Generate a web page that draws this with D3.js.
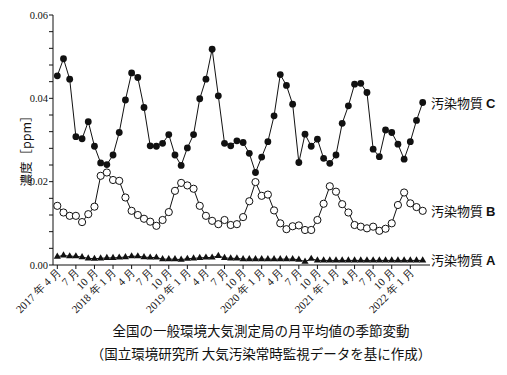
<!DOCTYPE html>
<html>
<head>
<meta charset="utf-8">
<script src="https://cdn.jsdelivr.net/npm/d3@7"></script>
<style>
  body { margin: 0; background: #fff; }
  text { fill: #111; }
</style>
</head>
<body>
<div id="output"></div>
<script>
// monthly values, 2017年4月 .. 2022年3月 (60 months)
var seriesC = [0.0454, 0.0495, 0.0446, 0.0308, 0.0303, 0.0344, 0.0285, 0.0245, 0.0241, 0.0264, 0.0318, 0.0396,
               0.0461, 0.0450, 0.0378, 0.0286, 0.0285, 0.0292, 0.0313, 0.0264, 0.0239, 0.0281, 0.0313, 0.0399,
               0.0446, 0.0518, 0.0406, 0.0292, 0.0286, 0.0298, 0.0294, 0.0268, 0.0222, 0.0259, 0.0296, 0.0358,
               0.0457, 0.0431, 0.0386, 0.0246, 0.0314, 0.0285, 0.0302, 0.0256, 0.0244, 0.0264, 0.0340, 0.0382,
               0.0434, 0.0436, 0.0414, 0.0278, 0.0260, 0.0324, 0.0318, 0.0290, 0.0254, 0.0296, 0.0347, 0.0390];
var seriesB = [0.0142, 0.0126, 0.0118, 0.0118, 0.0103, 0.0122, 0.0140, 0.0214, 0.0222, 0.0204, 0.0202, 0.0162,
               0.0130, 0.0120, 0.0111, 0.0104, 0.0094, 0.0108, 0.0127, 0.0178, 0.0197, 0.0191, 0.0183, 0.0142,
               0.0118, 0.0106, 0.0098, 0.0108, 0.0096, 0.0098, 0.0115, 0.0153, 0.0199, 0.0166, 0.0169, 0.0131,
               0.0100, 0.0086, 0.0093, 0.0095, 0.0084, 0.0084, 0.0108, 0.0147, 0.0189, 0.0176, 0.0146, 0.0126,
               0.0096, 0.0092, 0.0088, 0.0092, 0.0082, 0.0087, 0.0100, 0.0144, 0.0174, 0.0148, 0.0139, 0.0130];
var seriesA = [0.0020, 0.0023, 0.0021, 0.0021, 0.0019, 0.0016, 0.0015, 0.0016, 0.0017, 0.0017, 0.0018, 0.0019,
               0.0021, 0.0021, 0.0019, 0.0018, 0.0018, 0.0014, 0.0014, 0.0014, 0.0013, 0.0015, 0.0016, 0.0017,
               0.0018, 0.0018, 0.0022, 0.0017, 0.0016, 0.0016, 0.0014, 0.0014, 0.0014, 0.0014, 0.0014, 0.0014,
               0.0014, 0.0014, 0.0014, 0.0013, 0.0008, 0.0015, 0.0011, 0.0011, 0.0011, 0.0011, 0.0011, 0.0011,
               0.0011, 0.0011, 0.0011, 0.0011, 0.0011, 0.0011, 0.0011, 0.0011, 0.0011, 0.0011, 0.0011, 0.0011];
var monthLabels = ['2017 年 4 月', '7 月', '10 月', '2018 年 1 月', '4 月', '7 月', '10 月',
                   '2019 年 1 月', '4 月', '7 月', '10 月', '2020 年 1 月', '4 月', '7 月', '10 月',
                   '2021 年 1 月', '4 月', '7 月', '10 月', '2022 年 1 月'];
var yTicks = [0, 0.02, 0.04, 0.06];
var seriesNames = ['汚染物質', '汚染物質', '汚染物質'];
var seriesKeys = ['C', 'B', 'A'];
var caption = ['全国の一般環境大気測定局の月平均値の季節変動',
               '（国立環境研究所 大気汚染常時監視データを基に作成）'];

var w = 507, h = 375;
var axL = 53, axT = 15, axB = 265, axR = 430;
var serif = '"Liberation Serif", "DejaVu Serif", serif';
var jp = '"Noto Sans CJK JP", sans-serif';

var svg = d3.select('#output').append('svg')
  .attr('width', w)
  .attr('height', h);

var x = d3.scaleLinear().domain([0, 59]).range([57.3, 422.7]);
var y = d3.scaleLinear().domain([0, 0.06]).range([axB, axT]);

// y axis
svg.append('line').attr('x1', axL).attr('x2', axL).attr('y1', axT).attr('y2', axB)
  .attr('stroke', '#111').attr('stroke-width', 1);
svg.selectAll('.minor').data(d3.range(0, 0.0601, 0.004)).enter().append('line')
  .attr('x1', axL - 4).attr('x2', axL)
  .attr('y1', function(d) { return y(d); }).attr('y2', function(d) { return y(d); })
  .attr('stroke', '#111').attr('stroke-width', 1);
svg.selectAll('.ylab').data(yTicks).enter().append('text')
  .attr('x', axL - 5).attr('y', function(d) { return y(d) + 3.5; })
  .attr('text-anchor', 'end')
  .style('font-family', serif).style('font-size', '10.5px')
  .text(function(d) { return d3.format('.2f')(d); });
svg.append('text')
  .attr('transform', 'translate(31,148) rotate(-90)')
  .attr('text-anchor', 'middle')
  .style('font-family', jp).style('font-size', '12.5px')
  .text('濃度［ppm］');

// x axis
svg.append('line').attr('x1', axL).attr('x2', axR).attr('y1', axB).attr('y2', axB)
  .attr('stroke', '#111').attr('stroke-width', 1);
var tickIdx = monthLabels.map(function(d, i) { return i * 3; });
svg.selectAll('.xt').data(tickIdx).enter().append('line')
  .attr('x1', function(d) { return x(d); }).attr('x2', function(d) { return x(d); })
  .attr('y1', axB).attr('y2', axB + 4)
  .attr('stroke', '#111').attr('stroke-width', 1);
svg.selectAll('.xlab').data(monthLabels).enter().append('text')
  .attr('transform', function(d, i) { return 'translate(' + (x(i * 3) + 4) + ',' + (axB + 8) + ') rotate(-45)'; })
  .attr('text-anchor', 'end')
  .style('font-family', serif).style('font-size', '11px')
  .text(function(d) { return d; });

var line = d3.line()
  .x(function(d, i) { return x(i); })
  .y(function(d) { return y(d); });

function drawLine(data) {
  svg.append('path').datum(data).attr('d', line)
    .attr('fill', 'none').attr('stroke', '#111').attr('stroke-width', 1);
}

// A: triangles
drawLine(seriesA);
svg.selectAll('.tri').data(seriesA).enter().append('path')
  .attr('d', d3.symbol().type(d3.symbolTriangle).size(22))
  .attr('transform', function(d, i) { return 'translate(' + x(i) + ',' + y(d) + ')'; })
  .attr('fill', '#111');

// B: open circles
drawLine(seriesB);
svg.selectAll('.ob').data(seriesB).enter().append('circle')
  .attr('cx', function(d, i) { return x(i); })
  .attr('cy', function(d) { return y(d); })
  .attr('r', 3.6)
  .attr('fill', '#fff').attr('stroke', '#111').attr('stroke-width', 1);

// C: filled circles
drawLine(seriesC);
svg.selectAll('.oc').data(seriesC).enter().append('circle')
  .attr('cx', function(d, i) { return x(i); })
  .attr('cy', function(d) { return y(d); })
  .attr('r', 3.4)
  .attr('fill', '#111');

// series labels at the right end
var lastVals = [seriesC[59], seriesB[59], 0.0013];
seriesKeys.forEach(function(k, i) {
  var t = svg.append('text')
    .attr('x', 431).attr('y', y(lastVals[i]) + 5)
    .style('font-family', jp).style('font-size', '13px');
  t.append('tspan').text(seriesNames[i]);
  t.append('tspan').attr('dx', 3)
    .style('font-family', '"Liberation Sans", Arial, sans-serif').style('font-weight', 'bold')
    .text(k);
});

// caption
svg.selectAll('.cap').data(caption).enter().append('text')
  .attr('x', 261)
  .attr('y', function(d, i) { return 336 + i * 23; })
  .attr('text-anchor', 'middle')
  .style('font-family', jp).style('font-size', '13.5px')
  .text(function(d) { return d; });
</script>
</body>
</html>
